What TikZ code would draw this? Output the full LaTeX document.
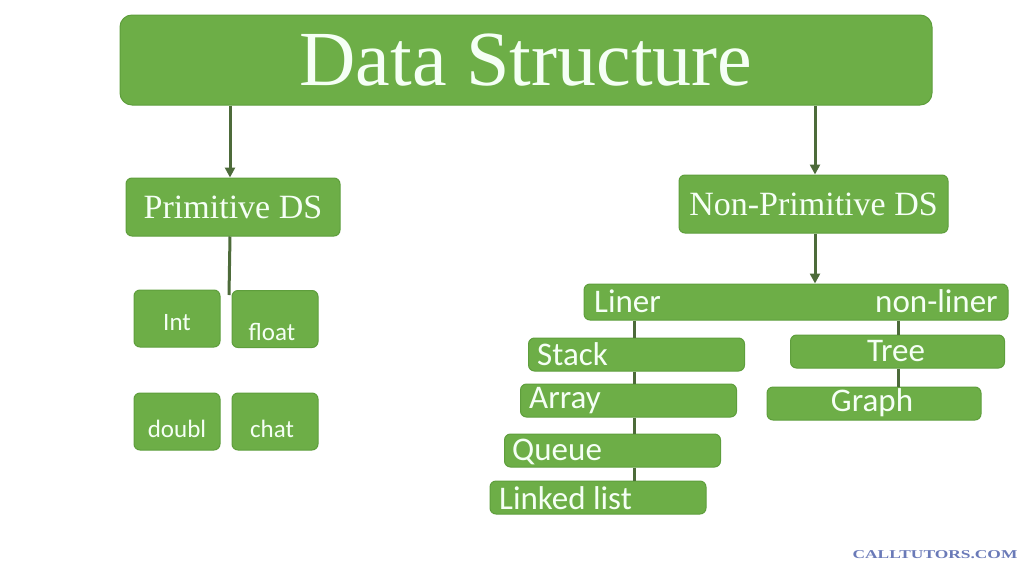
\documentclass[tikz,border=0pt]{standalone}
\usepackage{fontspec}
\setmainfont{Liberation Serif}
\newfontfamily\carlitofont{Carlito}
\usetikzlibrary{arrows.meta}
\definecolor{boxg}{HTML}{6DAE47}
\definecolor{edgeg}{HTML}{5E9E3C}
\definecolor{lineg}{HTML}{4D6B3A}
\definecolor{wm}{HTML}{6A7AB8}
\tikzset{
  gbox/.style={fill=boxg, draw=edgeg, line width=1pt, rounded corners=6pt, inner sep=0pt, text=white!96!green},
  lbl/.style={text=white!96!green, inner sep=0pt, font=\carlitofont\fontsize{33}{35}\selectfont},
  slbl/.style={text=white!96!green, inner sep=0pt, font=\carlitofont\fontsize{25}{27}\selectfont},
  conn/.style={draw=lineg, line width=3pt},
  arr/.style={conn, -{Triangle[length=10pt,width=10pt]}},
}
\begin{document}
\begin{tikzpicture}[x=1pt,y=-1pt]
\useasboundingbox (0,0) rectangle (1024,570);
% top
\node[gbox, rounded corners=12pt, minimum width=812pt, minimum height=90pt, font=\fontsize{78}{80}\selectfont] (ds) at (526,60) {Data Structure};
\node[gbox, minimum width=214pt, minimum height=58pt, font=\fontsize{34}{36}\selectfont] (prim) at (233,207) {Primitive DS};
\node[gbox, minimum width=269pt, minimum height=58pt, font=\fontsize{34}{36}\selectfont] (nprim) at (813.5,204) {Non-Primitive DS};
\coordinate (pl) at (230,0);
\coordinate (nl) at (815,0);
\draw[arr] (ds.south -| pl) -- (prim.north -| pl);
\draw[arr] (ds.south -| nl) -- (nprim.north -| nl);
% primitive children
\begin{scope}[every node/.style={gbox, minimum width=86pt, minimum height=57pt}]
\node (int) at (177,318.5) {};
\node (flt) at (275,319) {};
\node (dbl) at (177,421.5) {};
\node (cht) at (275,421.5) {};
\end{scope}
\node[slbl] (intt) at (int.center) [yshift=-4pt] {Int};
\node[slbl] (fltt) at (flt.center) [yshift=-13pt, xshift=-3pt] {float};
\node[slbl] (dblt) at (dbl.center) [yshift=-7pt] {doubl};
\node[slbl] (chtt) at (cht.center) [yshift=-7pt, xshift=-3pt] {chat};
\coordinate (pe) at (229,295);
\draw[conn] (prim.south -| pl) -- (pe);
% non-primitive
\node[gbox, minimum width=424pt, minimum height=36pt] (bar) at (796,302) {};
\node[lbl, anchor=west] (lin) at (594,301) {Liner};
\node[lbl, anchor=east] (nlin) at (998,301) {non-liner};
\draw[arr] (nprim.south -| nl) -- (bar.north -| nl);
\begin{scope}[every node/.style={gbox, minimum height=33pt, minimum width=216pt}]
\node (stk) at (636.5,354.5) {};
\node (arrn) at (628.5,400.5) {};
\node (que) at (612.5,450.5) {};
\node (ll) at (598,497.5) {};
\end{scope}
\begin{scope}[every node/.style={gbox, minimum height=33pt, minimum width=214pt}]
\node (tree) at (897.5,351.5) {};
\node (grph) at (874,403.5) {};
\end{scope}
\node[lbl, anchor=west] (stkt) at (537,354) {Stack};
\node[lbl, anchor=west] (arrt) at (529,401) {Array};
\node[lbl, anchor=west] (quet) at (512,452) {Queue};
\node[lbl, anchor=west] (llt) at (499,498) {Linked list};
\node[lbl] (treet) at (896,351) {Tree};
\node[lbl] (grpht) at (872,403) {Graph};
\coordinate (lx) at (634,0);
\coordinate (rx) at (898,0);
\draw[conn] (bar.south -| lx) -- (stk.north -| lx);
\draw[conn] (stk.south -| lx) -- (arrn.north -| lx);
\draw[conn] (arrn.south -| lx) -- (que.north -| lx);
\draw[conn] (que.south -| lx) -- (ll.north -| lx);
\draw[conn] (bar.south -| rx) -- (tree.north -| rx);
\draw[conn] (tree.south -| rx) -- (grph.north -| rx);
% watermark
\node[text=wm, xscale=1.45, font=\bfseries\fontsize{12}{13}\selectfont] (wmk) at (935,555) {CALLTUTORS.COM};
\end{tikzpicture}
\end{document}
